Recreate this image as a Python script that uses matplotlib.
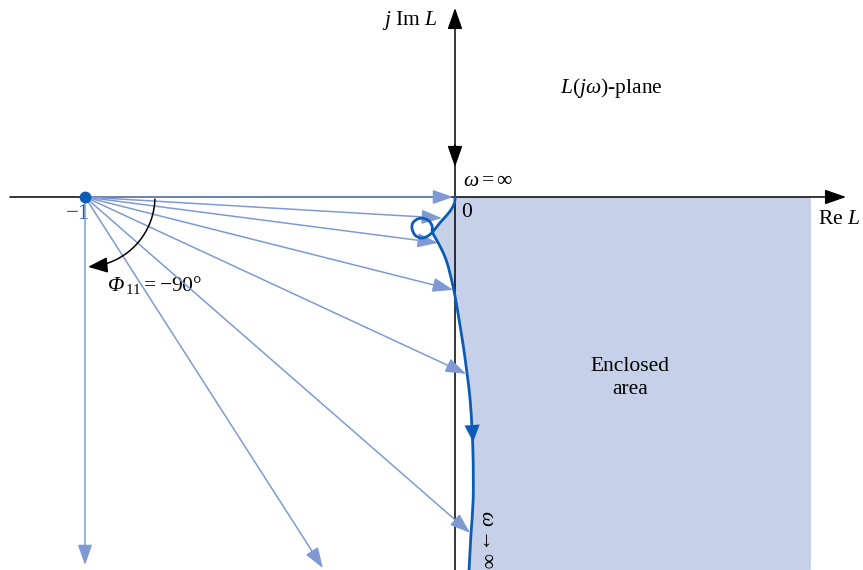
import numpy as np
import matplotlib
matplotlib.use("Agg")
import matplotlib.pyplot as plt
from matplotlib.patches import PathPatch
from matplotlib.path import Path

plt.rcParams["font.family"] = ["Liberation Serif", "DejaVu Serif"]
plt.rcParams["mathtext.fontset"] = "custom"
plt.rcParams["mathtext.rm"] = "Liberation Serif"
plt.rcParams["mathtext.it"] = "Liberation Serif:italic"
plt.rcParams["mathtext.bf"] = "Liberation Serif:bold"
plt.rcParams["mathtext.fallback"] = "stix"

# Nyquist locus L(jw): branch from the origin (w = inf) down to the self-crossing
upper_re = [0.000, -0.001, -0.008, -0.022, -0.041, -0.061]
upper_im = [0.000, -0.014, -0.030, -0.049, -0.070, -0.095]
# small loop near the origin (crossing point to crossing point)
loop_re = [-0.061, -0.076, -0.092, -0.108, -0.116, -0.114, -0.100, -0.084, -0.070,
           -0.062, -0.061]
loop_im = [-0.095, -0.107, -0.111, -0.103, -0.086, -0.070, -0.059, -0.058, -0.065,
           -0.078, -0.095]
# lower branch heading towards w -> 0
lower_re = [-0.061, -0.051, -0.038, -0.024, -0.014, -0.005, 0.003, 0.011, 0.022,
            0.032, 0.041, 0.046, 0.049, 0.049, 0.043, 0.038]
lower_im = [-0.095, -0.114, -0.138, -0.170, -0.205, -0.243, -0.284, -0.332, -0.400,
            -0.473, -0.549, -0.630, -0.711, -0.819, -0.914, -1.008]

# phasors drawn from the critical point -1 to points of the locus
critical = (-1.0, 0.0)
phasor_re = [-0.005, -0.035, -0.046, -0.005, 0.030, 0.041, -0.357, -1.000]
phasor_im = [0.000, -0.057, -0.124, -0.251, -0.478, -0.908, -1.003, -0.995]

# edges of the shaded (enclosed) area
shade_right = 0.962
shade_bottom = -1.008

# phase angle Phi_11 swept around -1
phi_radius = 0.189
phi_start_deg = -2.0
phi_end_deg = -87.5

DARK_BLUE = "#0b5cb5"
LIGHT_BLUE = "#7f9ad3"
SHADE = "#c6d0e8"


def smooth_path(xs, ys):
    """Cubic Bezier path passing through every given point (Catmull-Rom tangents)."""
    p = np.column_stack([xs, ys]).astype(float)
    ext = np.vstack([p[0], p, p[-1]])
    verts = [p[0]]
    codes = [Path.MOVETO]
    for i in range(len(p) - 1):
        p0, p1, p2, p3 = ext[i], ext[i + 1], ext[i + 2], ext[i + 3]
        verts += [p1 + (p2 - p0) / 6.0, p2 - (p3 - p1) / 6.0, p2]
        codes += [Path.CURVE4] * 3
    return verts, codes


fig = plt.figure(figsize=(8.63, 5.70), dpi=100)
ax = fig.add_axes([0, 0, 1, 1])
ax.set_xlim(-455 / 370, 408 / 370)
ax.set_ylim(-373 / 370, 197 / 370)
ax.axis("off")

# enclosed area: right of the locus (loop excluded)
edge_x = upper_re + lower_re[1:]
edge_y = upper_im + lower_im[1:]
sv, sc = smooth_path(edge_x, edge_y)
sv += [(shade_right, shade_bottom), (shade_right, 0.0), (0.0, 0.0)]
sc += [Path.LINETO, Path.LINETO, Path.CLOSEPOLY]
ax.add_patch(PathPatch(Path(sv, sc), facecolor=SHADE, edgecolor="none", zorder=1))

# coordinate axes
axis_kw = dict(arrowstyle="-|>,head_length=1.0,head_width=0.35", color="black",
               lw=1.1, mutation_scale=13, shrinkA=0, shrinkB=0)
ax.annotate("", xy=(1.057, 0.0), xytext=(-1.203, 0.0), arrowprops=axis_kw, zorder=3)
ax.annotate("", xy=(0.0, 0.511), xytext=(0.0, shade_bottom - 0.01), arrowprops=axis_kw, zorder=3)
ax.annotate("", xy=(0.0, 0.081), xytext=(0.0, 0.14), arrowprops=axis_kw, zorder=3)

# phasors from -1
ph_kw = dict(arrowstyle="-|>,head_length=1.0,head_width=0.35", color=LIGHT_BLUE,
             lw=1.1, mutation_scale=12.5, shrinkA=0, shrinkB=0)
for re, im in zip(phasor_re, phasor_im):
    ax.annotate("", xy=(re, im), xytext=critical, arrowprops=ph_kw, zorder=4)

# the locus
curve_re = upper_re + loop_re[1:] + lower_re[1:]
curve_im = upper_im + loop_im[1:] + lower_im[1:]
cv, cc = smooth_path(curve_re, curve_im)
ax.add_patch(PathPatch(Path(cv, cc), facecolor="none", edgecolor=DARK_BLUE, lw=2.0,
                       capstyle="round", joinstyle="round", zorder=5))
ax.annotate("", xy=(0.049, -0.662), xytext=(0.047, -0.630),
            arrowprops=dict(arrowstyle="-|>,head_length=1.0,head_width=0.45",
                            color=DARK_BLUE, lw=0.1, mutation_scale=12,
                            shrinkA=0, shrinkB=0), zorder=6)

# critical point
ax.plot([critical[0]], [critical[1]], "o", color=DARK_BLUE, ms=7.5, zorder=7)

# phase angle arc
t = np.radians(np.linspace(phi_start_deg, phi_end_deg + 6, 60))
ax.plot(critical[0] + phi_radius * np.cos(t), critical[1] + phi_radius * np.sin(t),
        color="black", lw=1.1, zorder=6)
t_end = np.radians([phi_end_deg + 6, phi_end_deg])
ax.annotate("", xy=(critical[0] + phi_radius * np.cos(t_end[1]),
                    critical[1] + phi_radius * np.sin(t_end[1])),
            xytext=(critical[0] + phi_radius * np.cos(t_end[0]),
                    critical[1] + phi_radius * np.sin(t_end[0])),
            arrowprops=dict(arrowstyle="-|>,head_length=1.0,head_width=0.4",
                            color="black", lw=1.1, mutation_scale=12,
                            shrinkA=0, shrinkB=0), zorder=6)

# labels
fs = 15.5
ax.text(-0.046, 0.478, r"$j$ Im $L$", ha="right", va="center", fontsize=fs)
ax.text(0.422, 0.295, r"$L(j\omega)$-plane", ha="center", va="center", fontsize=fs)
ax.text(0.022, 0.043, r"$\omega = \infty$", ha="left", va="center", fontsize=fs)
ax.text(0.032, -0.043, "0", ha="center", va="center", fontsize=fs)
ax.text(0.981, -0.062, r"Re $L$", ha="left", va="center", fontsize=fs)
ax.text(-1.019, -0.045, "\u22121", ha="center", va="center", fontsize=16.5,
        color="#1f5fae")
ax.text(-0.938, -0.254, "\u03a6", ha="left", va="baseline", fontsize=fs,
        fontstyle="italic")
ax.text(-0.893, -0.254, r"${}_{11} = -90°$", ha="left", va="baseline", fontsize=fs)
ax.text(0.473, -0.489, "Enclosed\narea", ha="center", va="center", fontsize=fs,
        linespacing=1.3)
ax.text(0.084, -0.927, r"$\omega \rightarrow \infty$", ha="center", va="center",
        fontsize=fs, rotation=-90)

fig.savefig("out.png", dpi=100)
